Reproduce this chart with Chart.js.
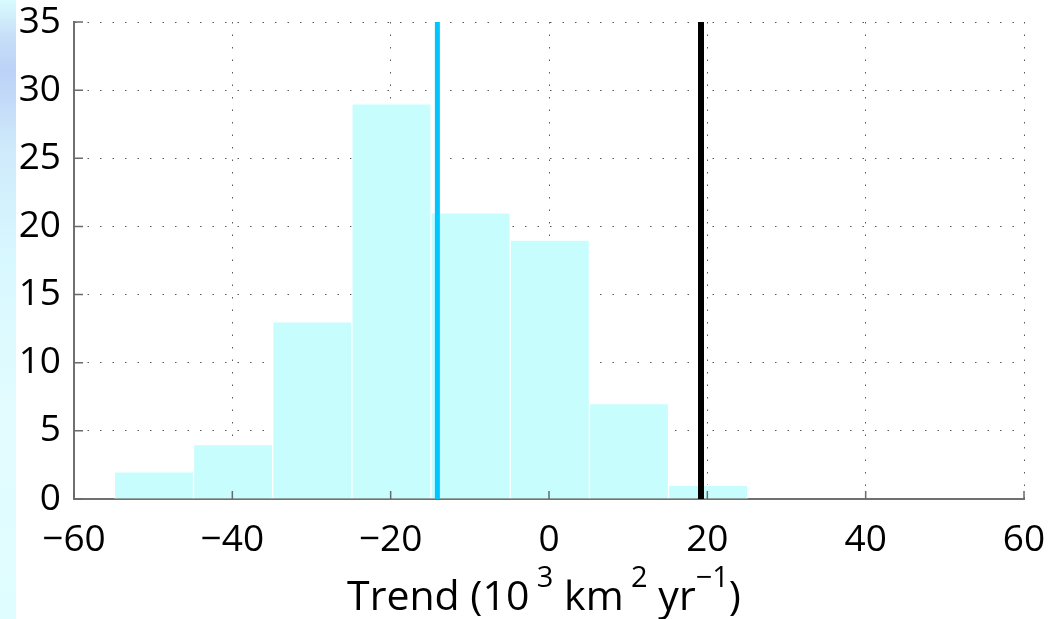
<!DOCTYPE html>
<html>
<head>
<meta charset="utf-8">
<script src="https://cdn.jsdelivr.net/npm/chart.js@4.4.1/dist/chart.umd.min.js"></script>
<style>
  html, body { margin: 0; padding: 0; }
  body {
    width: 1049px; height: 619px; overflow: hidden;
    background:
      linear-gradient(to bottom, #d9fbff 0px, #c8e0f8 35px, #bcd2f7 70px, #cfeafb 150px, #d8f8ff 260px, #e3fcff 420px, #dffdff 619px) no-repeat left top / 16px 100%,
      #ffffff;
  }
  #wrap { position: relative; width: 1049px; height: 619px; }
</style>
</head>
<body>
<div id="wrap"><canvas id="histChart"></canvas></div>
<script>
// Histogram bins (centres) and counts
const binCentres = [-49.9, -39.9, -29.9, -19.9, -9.9, 0.1, 10.1, 20.1];
const binCounts = [2, 4, 13, 29, 21, 19, 7, 1];

// Reference trend lines
const modelMeanTrend = -14.1;
const observedTrend = 19.2;

// Axis ticks
const xTicks = [-60, -40, -20, 0, 20, 40, 60];
const yTicks = [0, 5, 10, 15, 20, 25, 30, 35];

const FONT = "'Open Sans', 'DejaVu Sans', sans-serif";

// MATLAB-style inward tick marks + axis title with superscripts
const axisDecor = {
    id: 'axisDecor',
    afterDraw(chart) {
        const ctx = chart.ctx;
        const xs = chart.scales.x, ys = chart.scales.y;
        const area = chart.chartArea;
        ctx.save();
        ctx.strokeStyle = '#6a6a6a';
        ctx.lineWidth = 1.5;
        ctx.beginPath();
        yTicks.forEach(v => {
            const py = ys.getPixelForValue(v);
            ctx.moveTo(area.left, py);
            ctx.lineTo(area.left + 9, py);
        });
        xTicks.forEach(v => {
            const px = xs.getPixelForValue(v);
            ctx.moveTo(px, area.bottom);
            ctx.lineTo(px, area.bottom - 8);
        });
        ctx.stroke();

        // axis title: Trend (10^3 km^2 yr^-1)
        const parts = [
            { t: 'Trend (10', sup: false },
            { t: ' 3', sup: true },
            { t: ' km', sup: false },
            { t: ' 2', sup: true },
            { t: ' yr', sup: false },
            { t: '\u22121', sup: true },
            { t: ')', sup: false }
        ];
        const mainFont = '41px ' + FONT;
        const supFont = '29px ' + FONT;
        let total = 0;
        parts.forEach(p => {
            ctx.font = p.sup ? supFont : mainFont;
            p.w = ctx.measureText(p.t).width;
            total += p.w;
        });
        let x = 544 - total / 2;
        const baseline = 610;
        ctx.fillStyle = '#000';
        ctx.textBaseline = 'alphabetic';
        ctx.textAlign = 'left';
        parts.forEach(p => {
            ctx.font = p.sup ? supFont : mainFont;
            ctx.fillText(p.t, x, p.sup ? baseline - 23 : baseline);
            x += p.w;
        });
        ctx.restore();
    }
};

const histData = binCentres.map((c, i) => ({ x: c, y: binCounts[i] }));

new Chart(document.getElementById('histChart'), {
    type: 'bar',
    data: {
        datasets: [
            {
                type: 'line',
                data: [{ x: modelMeanTrend, y: 0 }, { x: modelMeanTrend, y: 35 }],
                borderColor: '#00c6ff',
                borderWidth: 5,
                pointRadius: 0,
                borderCapStyle: 'butt',
                order: 1
            },
            {
                type: 'line',
                data: [{ x: observedTrend, y: 0 }, { x: observedTrend, y: 35 }],
                borderColor: '#000000',
                borderWidth: 6,
                pointRadius: 0,
                borderCapStyle: 'butt',
                order: 1
            },
            {
                type: 'bar',
                data: histData,
                backgroundColor: '#c8fdfd',
                borderColor: '#ffffff',
                borderWidth: 1,
                barPercentage: 1,
                categoryPercentage: 1,
                order: 2
            }
        ]
    },
    options: {
        responsive: true,
        maintainAspectRatio: false,
        animation: false,
        layout: { padding: { top: 22, right: 25, left: 0, bottom: 0 } },
        plugins: {
            legend: { display: false },
            tooltip: { enabled: false }
        },
        scales: {
            x: {
                type: 'linear',
                min: -60,
                max: 60,
                offset: false,
                afterFit: s => {
                    s.height = 120;
                    s.paddingLeft = 0;
                    s.paddingRight = 0;
                },
                ticks: {
                    stepSize: 20,
                    autoSkip: false,
                    color: '#000',
                    font: { family: FONT, size: 37 },
                    padding: 19,
                    maxRotation: 0,
                    callback: v => (v < 0 ? '\u2212' + Math.abs(v) : String(v))
                },
                grid: { offset: false, color: 'rgba(0,0,0,0.65)', lineWidth: 1, drawTicks: false },
                border: { display: true, color: '#707070', width: 2, dash: [1.5, 11] }
            },
            y: {
                min: 0,
                max: 35,
                afterFit: s => {
                    s.width = 74;
                    s.paddingTop = 0;
                    s.paddingBottom = 0;
                },
                ticks: {
                    stepSize: 5,
                    autoSkip: false,
                    color: '#000',
                    font: { family: FONT, size: 37 },
                    padding: 13
                },
                grid: { color: 'rgba(0,0,0,0.65)', lineWidth: 1, drawTicks: false },
                border: { display: true, color: '#707070', width: 2, dash: [1.5, 11] }
            }
        }
    },
    plugins: [axisDecor]
});
</script>
</body>
</html>
